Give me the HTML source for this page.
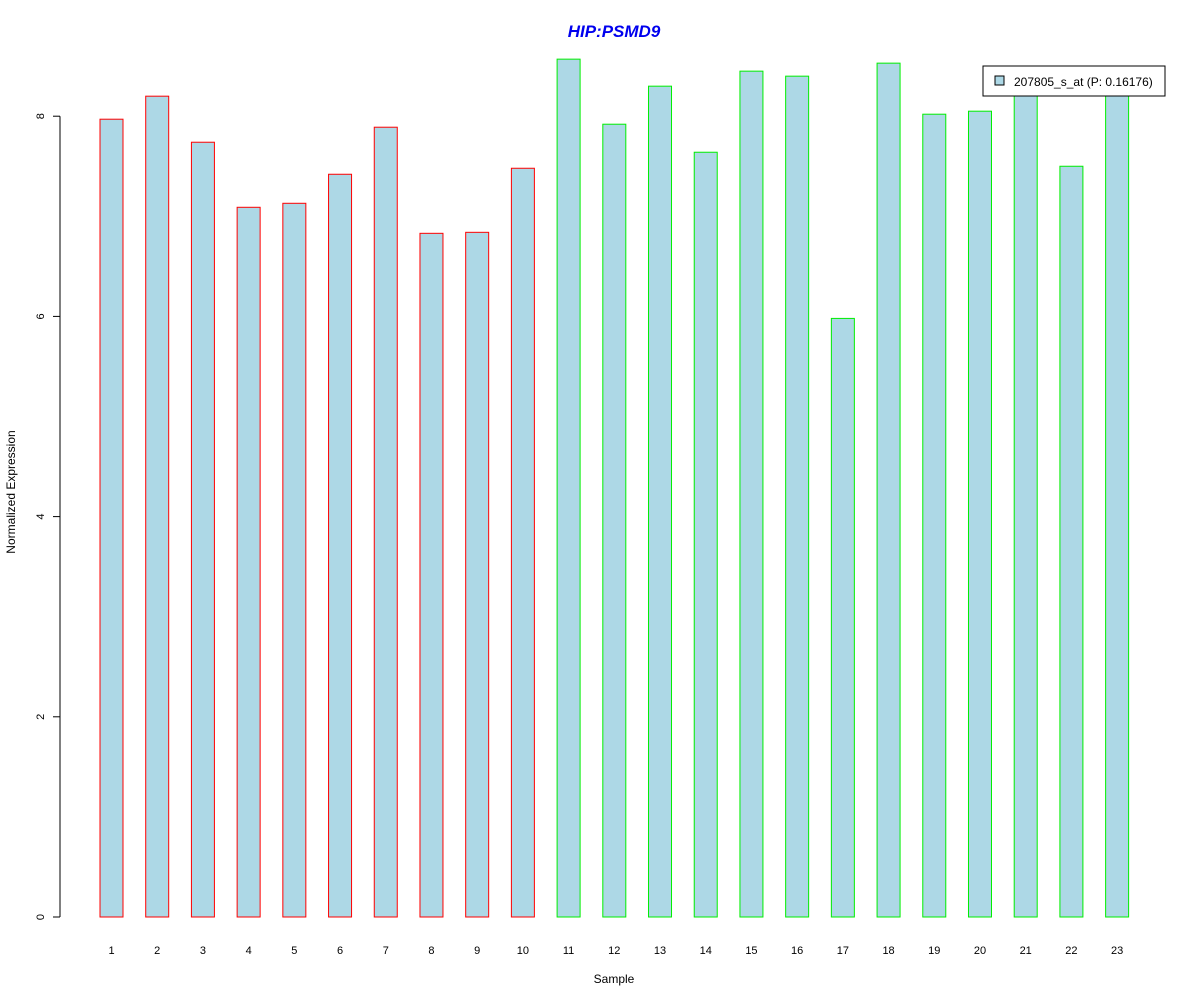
<!DOCTYPE html>
<html><head><meta charset="utf-8"><style>
body{margin:0;background:#fff}
svg{display:block;font-family:"Liberation Sans",Arial,sans-serif}
</style></head><body>
<svg id="chart" width="1200" height="1000" viewBox="0 0 1200 1000" xmlns="http://www.w3.org/2000/svg">
<rect width="1200" height="1000" fill="#fff"/>
<text x="614" y="37" text-anchor="middle" font-size="17" font-weight="bold" font-style="italic" fill="#0000ee">HIP:PSMD9</text>
<text x="614" y="983" text-anchor="middle" font-size="12">Sample</text>
<text transform="translate(15,492) rotate(-90)" text-anchor="middle" font-size="12">Normalized Expression</text>
<g id="yaxis"></g>
<g id="bars"></g>
<g id="xlabels"></g>
<g>
<rect x="983" y="66" width="182" height="30" fill="#fff" stroke="#000"/>
<rect x="995" y="76" width="9" height="9" fill="#add8e6" stroke="#000"/>
<text x="1014" y="86" font-size="12">207805_s_at (P: 0.16176)</text>
</g>
</svg>
<script>
const categories=["1","2","3","4","5","6","7","8","9","10","11","12","13","14","15","16","17","18","19","20","21","22","23"];
const values=[7.97,8.20,7.74,7.09,7.13,7.42,7.89,6.83,6.84,7.48,8.57,7.92,8.30,7.64,8.45,8.40,5.98,8.53,8.02,8.05,8.25,7.50,8.25];
const groups=["r","r","r","r","r","r","r","r","r","r","g","g","g","g","g","g","g","g","g","g","g","g","g"];
const yTicks=[0,2,4,6,8];
const NS="http://www.w3.org/2000/svg";
function y(v){return 917-v*100.1;}
function xc(i){return 111.5+i*45.71;}
function mk(t,a,p){const e=document.createElementNS(NS,t);for(const k in a)e.setAttribute(k,a[k]);p.appendChild(e);return e;}
const ya=document.getElementById('yaxis');
const yl=mk('line',{x1:60,x2:60,y1:y(0),y2:y(8),stroke:'#000'},ya);


yTicks.forEach(t=>{
 const l=mk('line',{x1:53,x2:60,y1:y(t),y2:y(t),stroke:'#000'},ya);
 
 
 const tx=mk('text',{transform:`translate(44,${y(t)}) rotate(-90)`,'text-anchor':'middle','font-size':11},ya);
 tx.textContent=t;
 
 
});
const bg=document.getElementById('bars'),xg=document.getElementById('xlabels');
values.forEach((v,i)=>{
 const r=mk('rect',{x:xc(i)-11.5,y:y(v),width:23,height:y(0)-y(v),fill:'#add8e6',stroke:groups[i]==='r'?'#ff0000':'#00ee00'},bg);
 
 
 const t=mk('text',{x:xc(i),y:954,'text-anchor':'middle','font-size':11},xg);
 t.textContent=categories[i];
 
 
});
</script>
</body></html>
